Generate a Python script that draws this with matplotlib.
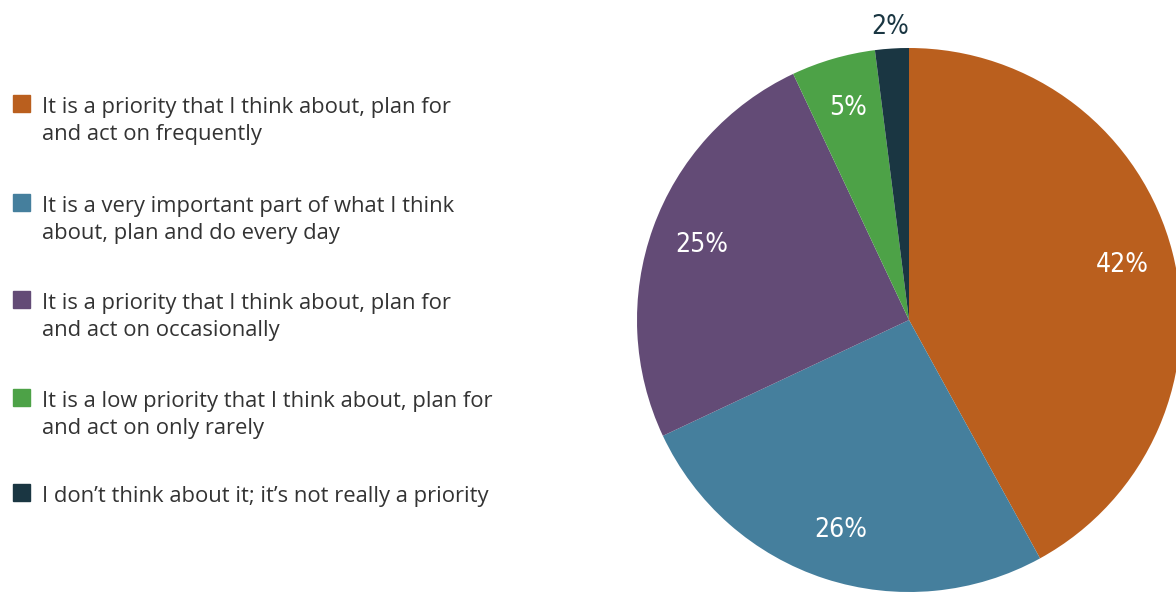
import matplotlib.pyplot as plt
import numpy as np
from matplotlib.patches import Rectangle

# data
categories = [
    'It is a priority that I think about, plan for\nand act on frequently',
    'It is a very important part of what I think\nabout, plan and do every day',
    'It is a priority that I think about, plan for\nand act on occasionally',
    'It is a low priority that I think about, plan for\nand act on only rarely',
    "I don\u2019t think about it; it\u2019s not really a priority",
]
shares = [42, 26, 25, 5, 2]
colors = ['#BA5F1E', '#457F9D', '#634B76', '#4DA247', '#1A3642']

W, H = 1176, 594
fig = plt.figure(figsize=(W / 100, H / 100), dpi=100)

# pie axes, center at (909, 320) px, radius ~272 px
cx, cy, r = 909, 320, 272
ax = fig.add_axes([(cx - r) / W, (H - cy - r) / H, 2 * r / W, 2 * r / H])
wedges, _ = ax.pie(shares, colors=colors, startangle=90, counterclock=False,
                   radius=1, wedgeprops=dict(linewidth=0))
ax.set_xlim(-1, 1)
ax.set_ylim(-1, 1)
ax.set_aspect('equal')
ax.axis('off')

for w, v in zip(wedges, shares):
    mid = np.deg2rad((w.theta1 + w.theta2) / 2)
    if v < 3:
        d, col = 1.08, '#1A3642'
    else:
        d, col = 0.81, 'white'
    ax.text(d * np.cos(mid), d * np.sin(mid), f'{v}%', ha='center', va='center',
            color=col, fontsize=19, family='DejaVu Sans', fontstretch='condensed',
            clip_on=False)

# legend drawn on the figure
baselines = [113, 212, 309, 407, 502]
for lab, col, b in zip(categories, colors, baselines):
    fig.patches.append(Rectangle((13 / W, 1 - (b - 1) / H), 17 / W, 17 / H,
                                 transform=fig.transFigure, color=col))
    for k, line in enumerate(lab.split('\n')):
        fig.text(42 / W, 1 - (b + 27 * k) / H, line, ha='left', va='baseline',
                 fontsize=15.8, family='Open Sans', color='#333333')

fig.savefig('out.png', dpi=100, facecolor='white')
